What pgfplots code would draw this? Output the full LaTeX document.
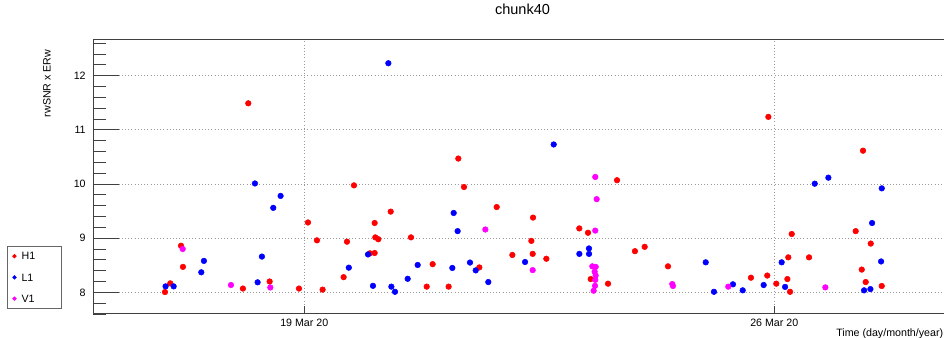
\documentclass[border=0pt]{standalone}
\usepackage{pgfplots}
\pgfplotsset{compat=1.18}
\usepackage{fontspec}
\setmainfont{Liberation Sans}
\definecolor{rootred}{RGB}{255,0,0}
\definecolor{rootblue}{RGB}{0,0,255}
\definecolor{rootmag}{RGB}{255,0,255}
\begin{document}
\begin{tikzpicture}[x=0.75pt,y=0.75pt]
\useasboundingbox (0,0) rectangle (944,338);
\begin{axis}[
  at={(69.75pt,18pt)}, anchor=south west,
  scale only axis, width=639.75pt, height=205.5pt,
  xmin=-3.147, xmax=9.558, ymin=7.6, ymax=12.659,
  axis line style={black!75, line width=0.75pt},
  tick pos=left, tick align=inside,
  xtick={0,7}, xticklabels={19 Mar 20, 26 Mar 20},
  ytick={7,8,9,10,11,12,13},
  minor y tick num=4, minor x tick num=0,
  major tick length=19.5pt, minor tick length=9.75pt,
  xtick style={/pgfplots/major tick length=6pt},
  every tick/.style={black!75, line width=0.6pt},
  grid=major,
  major grid style={gray!80, dotted, line width=0.6pt},
  ticklabel style={font=\fontsize{8}{9}\selectfont},
  /pgf/number format/assume math mode=true,
  yticklabel style={xshift=-2pt},
  title={chunk40},
  title style={at={(axis description cs:0.5035,1.0631)}, anchor=base, font=\fontsize{10.9}{12}\selectfont},
  xlabel={Time (day/month/year)},
  xlabel style={at={(axis description cs:0.9970,-0.0803)}, anchor=base east, inner sep=0pt, font=\fontsize{8}{9}\selectfont},
  ylabel={rwSNR x ERw},
  ylabel style={at={(axis description cs:-0.0496,0.9818)}, anchor=base east, font=\fontsize{8}{9}\selectfont},
  legend cell align=left,
  legend style={at={(axis description cs:-0.1008,0.2482)}, anchor=north west,
    draw=black!60, line width=0.6pt, fill=white, inner xsep=4pt, inner ysep=4.5pt,
    row sep=10.2pt, column sep=4pt, font=\fontsize{8}{9}\selectfont,
    nodes={inner sep=0pt, text height=5.7pt, text depth=0pt, text width=26pt, align=left}},
  legend image code/.code={\draw[mark size=1.3pt] plot coordinates {(0pt,0pt)};},
]
\addplot[only marks, mark=*, color=rootred, mark size=2.1pt] coordinates {
(-2.075,8.005) (-1.996,8.166) (-1.836,8.86) (-1.807,8.47) (-0.914,8.07) (-0.834,11.49)
(-0.516,8.20) (-0.079,8.07) (0.055,9.29) (0.189,8.96) (0.273,8.05) (0.586,8.28)
(0.636,8.935) (0.740,9.975) (0.978,8.72) (1.048,8.726) (1.048,9.28) (1.058,9.015) (1.103,8.98)
(1.287,9.49) (1.589,9.015) (1.823,8.105) (1.912,8.52) (2.150,8.105) (2.294,10.47)
(2.379,9.945) (2.607,8.46) (2.866,9.575) (3.099,8.69) (3.382,8.95) (3.402,8.71)
(3.407,9.38) (3.605,8.62) (4.096,9.18) (4.226,9.10) (4.266,8.245) (4.524,8.16)
(4.658,10.07) (4.925,8.76) (5.070,8.84) (5.417,8.48) (6.653,8.27) (6.896,8.31)
(6.912,11.24) (7.03,8.16) (7.195,8.245) (7.209,8.646) (7.235,8.01) (7.260,9.077)
(7.518,8.646) (8.213,9.13) (8.303,8.42) (8.322,10.615) (8.362,8.19) (8.437,8.90)
(8.601,8.117)
};
\addlegendentry{H1}
\addplot[only marks, mark=*, color=rootblue, mark size=2.1pt] coordinates {
(-2.066,8.11) (-1.946,8.11) (-1.534,8.37) (-1.495,8.58) (-0.735,10.01) (-0.695,8.185)
(-0.631,8.66) (-0.462,9.56) (-0.353,9.78) (0.663,8.455) (0.949,8.70) (1.023,8.12)
(1.252,12.23) (1.297,8.105) (1.351,8.01) (1.540,8.25) (1.689,8.505) (2.205,8.45)
(2.225,9.465) (2.284,9.13) (2.468,8.55) (2.553,8.405) (2.741,8.19) (3.288,8.56)
(3.715,10.73) (4.097,8.71) (4.240,8.81) (4.241,8.71) (5.979,8.554) (6.102,8.01)
(6.385,8.148) (6.530,8.037) (6.842,8.135) (7.11,8.554) (7.161,8.10) (7.603,10.006)
(7.806,10.117) (8.338,8.037) (8.432,8.06) (8.457,9.28) (8.591,8.57) (8.601,9.92)
};
\addlegendentry{L1}
\addplot[only marks, mark=*, color=rootmag, mark size=2.1pt] coordinates {
(-1.811,8.80) (-1.092,8.135) (-0.506,8.09) (2.697,9.16) (3.402,8.41)
(4.334,10.13) (4.355,9.72) (4.334,9.14) (4.290,8.48) (4.340,8.47) (4.325,8.38)
(4.340,8.31) (4.334,8.23) (4.330,8.12) (4.310,8.03)
(5.481,8.153) (5.491,8.117) (6.315,8.105) (7.761,8.092)
};
\addlegendentry{V1}
\end{axis}
\end{tikzpicture}
\end{document}
